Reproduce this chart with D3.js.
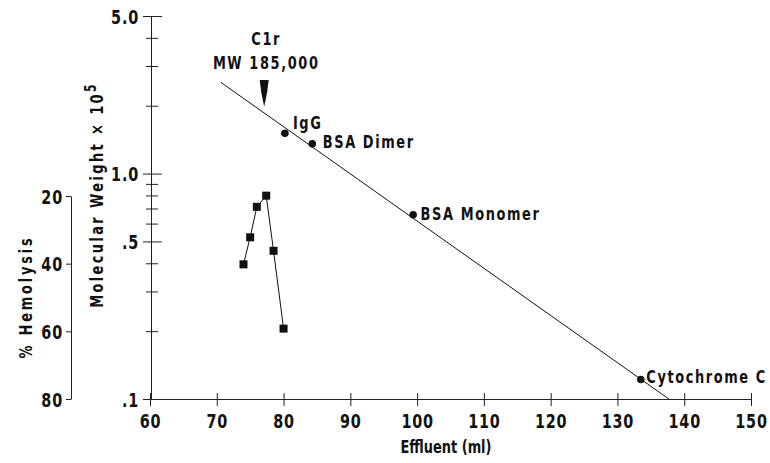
<!DOCTYPE html>
<html>
<head>
<meta charset="utf-8">
<script src="https://cdn.jsdelivr.net/npm/d3@7"></script>
<style>
  body { margin: 0; background: #fff; }
  svg { display: block; }
  text { font-family: "DejaVu Sans Condensed", "DejaVu Sans", sans-serif; font-weight: bold; fill: #111; }
</style>
</head>
<body>
<div id="chart"></div>
<script>
// effluent axis (ml)
var effluentTicks = [60, 70, 80, 90, 100, 110, 120, 130, 140, 150];
// molecular weight axis (x 10^5), log scale
var mwMajorTicks = [5, 1, 0.5, 0.1];
var mwMajorLabels = ["5.0", "1.0", ".5", ".1"];
var mwMinorTicks = [4, 3, 2, 0.9, 0.8, 0.7, 0.6, 0.4, 0.3, 0.2];
// % hemolysis axis (reversed)
var hemoTicks = [20, 40, 60, 80];

// calibration standards
var standardNames = ["IgG", "BSA Dimer", "BSA Monomer", "Cytochrome C"];
var standardEffluent = [80.2, 84.3, 99.4, 133.5];
var standardMW = [1.51, 1.355, 0.657, 0.122];

// calibration line end points
var fitEffluent = [70.6, 137.7];
var fitMW = [2.54, 0.1];

// hemolytic activity of fractions
var hemoEffluent = [74, 75, 76, 77.4, 78.5, 80];
var hemoPercent = [40.2, 32.2, 23.2, 19.9, 36.2, 59.2];

// C1r marker
var c1rEffluent = 77.1;
var c1rArrowMW = [2.6, 1.98];
var c1rText = ["C1r", "MW 185,000"];

var width = 770, height = 463;
var squeezeK = 0.8;   // the original lettering is very condensed

var svg = d3.select("#chart").append("svg")
	.attr("width", width)
	.attr("height", height);

var x = d3.scaleLinear().domain([60, 150]).range([150, 751]);
var y = d3.scaleLog().domain([0.1, 5]).range([399, 16]);
var h = d3.scaleLinear().domain([20, 80]).range([196, 399]);

// narrow the glyphs horizontally, keeping the anchor point
function squeeze(sel) {
	sel.each(function() {
		var t = d3.select(this);
		var tx = +t.attr("x") || 0, ty = +t.attr("y") || 0;
		var prev = t.attr("transform") || "";
		t.attr("x", null).attr("y", null)
			.attr("transform", prev + " translate(" + tx + "," + ty + ") scale(" + squeezeK + ",1)");
	});
}

var axisStyle = function(g, size) {
	g.attr("font-family", null).attr("font-size", null);
	g.selectAll("text").style("font-size", size + "px").style("letter-spacing", "1px");
	g.selectAll("path, line").attr("stroke", "#222");
};

// x axis
var gx = svg.append("g")
	.attr("transform", "translate(0,399)")
	.call(d3.axisBottom(x).tickValues(effluentTicks).tickSize(0).tickSizeOuter(0).tickPadding(0));
gx.selectAll(".tick line").attr("y1", -6).attr("y2", 7);
gx.selectAll(".tick text").attr("y", 29).attr("dy", 0);
axisStyle(gx, 20);

// MW axis, major
var gy = svg.append("g")
	.attr("transform", "translate(151,0)")
	.call(d3.axisLeft(y).tickValues(mwMajorTicks)
		.tickFormat(function(d, i) { return mwMajorLabels[i]; })
		.tickSize(0).tickSizeOuter(0));
gy.selectAll(".tick line").attr("x1", -8).attr("x2", 11);
gy.selectAll(".tick text").attr("x", -12).attr("dy", "0.36em");
axisStyle(gy, 20);

// MW axis, minor
var gym = svg.append("g")
	.attr("transform", "translate(151,0)")
	.call(d3.axisLeft(y).tickValues(mwMinorTicks).tickFormat("").tickSize(0).tickSizeOuter(0));
gym.select(".domain").remove();
gym.selectAll(".tick line").attr("x1", -5).attr("x2", 7);
axisStyle(gym, 20);

// hemolysis axis
var gh = svg.append("g")
	.attr("transform", "translate(71,0)")
	.call(d3.axisLeft(h).tickValues(hemoTicks).tickSize(5).tickSizeOuter(0).tickPadding(3));
gh.selectAll(".tick text").attr("dy", "0.36em");
axisStyle(gh, 20);

// axis titles
svg.append("text")
	.attr("class", "lbl")
	.attr("x", 446).attr("y", 453)
	.attr("text-anchor", "middle")
	.style("font-size", "18px").style("letter-spacing", "0px")
	.text("Effluent (ml)");

var mwTitle = svg.append("text")
	.attr("class", "lbl")
	.attr("transform", "translate(103,195) rotate(-90)")
	.attr("text-anchor", "middle")
	.style("font-size", "18px").style("letter-spacing", "3px");
mwTitle.append("tspan").text("Molecular Weight \u00d7 10");
mwTitle.append("tspan").attr("dy", -7).style("font-size", "15px").text("5");

svg.append("text")
	.attr("class", "lbl")
	.attr("transform", "translate(32,297) rotate(-90)")
	.attr("text-anchor", "middle")
	.style("font-size", "18px").style("letter-spacing", "3.5px")
	.text("% Hemolysis");

// calibration line
var fitLine = d3.line()
	.x(function(d) { return x(d[0]); })
	.y(function(d) { return y(d[1]); });
svg.append("path")
	.datum(d3.zip(fitEffluent, fitMW))
	.attr("d", fitLine)
	.attr("fill", "none")
	.attr("stroke", "#111")
	.attr("stroke-width", 1);

// standards
var standards = d3.zip(standardNames, standardEffluent, standardMW);
svg.selectAll(".std")
	.data(standards)
	.enter().append("circle")
	.attr("class", "std")
	.attr("cx", function(d) { return x(d[1]); })
	.attr("cy", function(d) { return y(d[2]); })
	.attr("r", 3.8)
	.attr("fill", "#111");

var labelShift = [[8, -4], [10.5, 4], [7.5, 5], [5.5, 3]];
svg.selectAll(".std-label")
	.data(standards)
	.enter().append("text")
	.attr("class", "std-label lbl")
	.attr("x", function(d, i) { return x(d[1]) + labelShift[i][0]; })
	.attr("y", function(d, i) { return y(d[2]) + labelShift[i][1]; })
	.style("font-size", "18px").style("letter-spacing", "2px")
	.text(function(d) { return d[0]; });

// hemolysis profile
var hemo = d3.zip(hemoEffluent, hemoPercent);
svg.append("path")
	.datum(hemo)
	.attr("d", d3.line().x(function(d) { return x(d[0]); }).y(function(d) { return h(d[1]); }))
	.attr("fill", "none")
	.attr("stroke", "#111")
	.attr("stroke-width", 1);
svg.selectAll(".sq")
	.data(hemo)
	.enter().append("rect")
	.attr("class", "sq")
	.attr("x", function(d) { return x(d[0]) - 4; })
	.attr("y", function(d) { return h(d[1]) - 4; })
	.attr("width", 8)
	.attr("height", 8)
	.attr("fill", "#111");

// C1r arrow and label
var ax = x(c1rEffluent), ay0 = y(c1rArrowMW[0]), ay1 = y(c1rArrowMW[1]);
svg.append("path")
	.attr("d", "M" + (ax - 4.5) + "," + ay0 + "L" + (ax + 4.5) + "," + ay0 +
		"L" + (ax + 3) + "," + (ay0 + 12) + "L" + ax + "," + ay1 +
		"L" + (ax - 3) + "," + (ay0 + 12) + "Z")
	.attr("fill", "#111");
svg.selectAll(".c1r")
	.data(c1rText)
	.enter().append("text")
	.attr("class", "c1r lbl")
	.attr("x", ax + 2)
	.attr("y", function(d, i) { return 45 + i * 24; })
	.attr("text-anchor", "middle")
	.style("font-size", "18px").style("letter-spacing", "2px")
	.text(function(d) { return d; });

squeeze(svg.selectAll("text"));
</script>
</body>
</html>
